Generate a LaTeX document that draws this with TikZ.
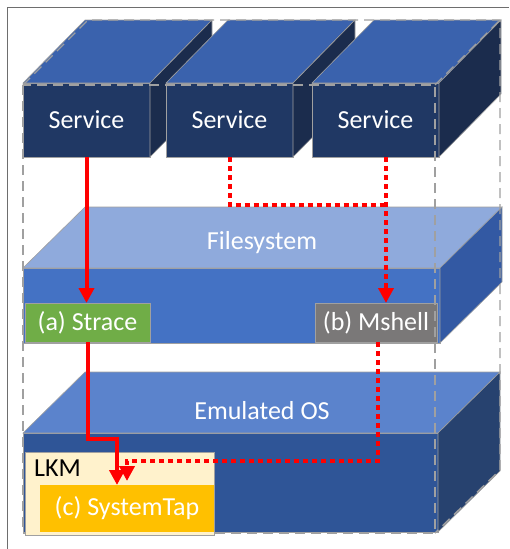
\documentclass[tikz,border=0pt]{standalone}
\usepackage{fontspec}
\setmainfont{Carlito}
\usetikzlibrary{arrows.meta}
\definecolor{edgegray}{HTML}{A0A0A0}
\definecolor{framegray}{HTML}{6E6E6E}
\definecolor{svcfront}{HTML}{203864}
\definecolor{svctop}{HTML}{3A62AD}
\definecolor{svcside}{HTML}{1B2C4D}
\definecolor{fsfront}{HTML}{4472C4}
\definecolor{fstop}{HTML}{8FAADC}
\definecolor{fsside}{HTML}{3359A3}
\definecolor{osfront}{HTML}{2F5597}
\definecolor{ostop}{HTML}{5B83CC}
\definecolor{osside}{HTML}{27426F}
\definecolor{stracefill}{HTML}{70AD47}
\definecolor{mshellfill}{HTML}{7A7878}
\definecolor{lkmfill}{HTML}{FFF2CC}
\definecolor{stapfill}{HTML}{FFC000}
\definecolor{arrowred}{HTML}{FF0000}

\begin{document}
\begin{tikzpicture}[x=1pt, y=-1pt,
		face/.style={draw=edgegray, line width=0.6pt, inner sep=0pt, outer sep=0pt},
		boxtext/.style={text=white, font=\fontsize{26}{30}\selectfont},
		cubedash/.style={draw=edgegray, line width=1.4pt, dash pattern=on 10pt off 6pt},
		solidarrow/.style={draw=arrowred, line width=4pt, -{Triangle[length=15pt, width=15pt]}},
		dotline/.style={draw=arrowred, line width=4pt, dash pattern=on 5pt off 4pt},
		dotarrow/.style={dotline, -{Triangle[length=15pt, width=15pt]}}]
	\useasboundingbox (0,0) rectangle (509,549);
	\draw[framegray, line width=1pt] (7,549) -- (7,7) -- (509,7);

	% the three services
	\foreach \cx/\nm in {86.5/svc1, 229.5/svc2, 375.5/svc3} {
		\node [face, fill=svcfront, minimum width=127pt, minimum height=74pt, boxtext] (\nm) at (\cx,120) {Service};
		\filldraw [face, fill=svctop] (\nm.north west) -- ++(62,-63) -- ++(127,0) -- (\nm.north east) -- cycle;
		\filldraw [face, fill=svcside] (\nm.north east) -- ++(62,-63) -- ++(0,74) -- (\nm.south east) -- cycle;
	}

	% filesystem slab
	\node [face, fill=fsfront, minimum width=417pt, minimum height=75pt] (fs) at (231.5,305.5) {};
	\filldraw [face, fill=fstop] (fs.north west) -- ++(62,-61) -- ++(417,0) -- (fs.north east) -- cycle;
	\filldraw [face, fill=fsside] (fs.north east) -- ++(62,-61) -- ++(0,75) -- (fs.south east) -- cycle;
	\node [boxtext] (fslabel) at (262,243) {Filesystem};
	\node [face, fill=stracefill, minimum width=125pt, minimum height=39pt, boxtext] (strace) at (87.5,322.5) {(a) Strace};
	\node [face, fill=mshellfill, minimum width=122pt, minimum height=39pt, boxtext] (mshell) at (376,322.5) {(b) Mshell};

	% emulated OS slab
	\node [face, fill=osfront, minimum width=415pt, minimum height=99pt] (os) at (230.5,482.5) {};
	\filldraw [face, fill=ostop] (os.north west) -- ++(62,-61) -- ++(415,0) -- (os.north east) -- cycle;
	\filldraw [face, fill=osside] (os.north east) -- ++(62,-61) -- ++(0,99) -- (os.south east) -- cycle;
	\node [boxtext] (oslabel) at (262,411) {Emulated OS};

	% dashed outline
	\draw [cubedash] (23,85) rectangle (435,533);
	\draw [cubedash] (23,85) -- (88,20) -- (500,20) -- (500,470) -- (435,533);
	\draw [cubedash] (435,85) -- (500,20);

	\node [face, fill=lkmfill, minimum width=189pt, minimum height=83pt] (lkm) at (119.5,493.5) {};
	\node [anchor=west, inner sep=0pt, font=\fontsize{26}{30}\selectfont] (lkmlabel) at (34,468) {LKM};
	\node [face, draw=none, fill=stapfill, minimum width=174pt, minimum height=47pt, boxtext] (stap) at (127,508.5) {(c) SystemTap};

	% arrows
	\coordinate (bendA) at (117,439);
	\coordinate (merge) at (386,205);
	\coordinate (bendB) at (378,461);
	\draw [solidarrow] (svc1.south) -- (svc1.south |- strace.north);
	\draw [solidarrow] (strace.south) |- (bendA) -- (bendA |- stap.north);
	\draw [dotline] (svc2.south) |- (merge);
	\draw [dotarrow] (merge |- svc3.south) -- (merge |- mshell.north);
	\draw [dotarrow, shorten >=4pt] (bendB |- mshell.south) -- (bendB) -| (stap.north);
\end{tikzpicture}
\end{document}
